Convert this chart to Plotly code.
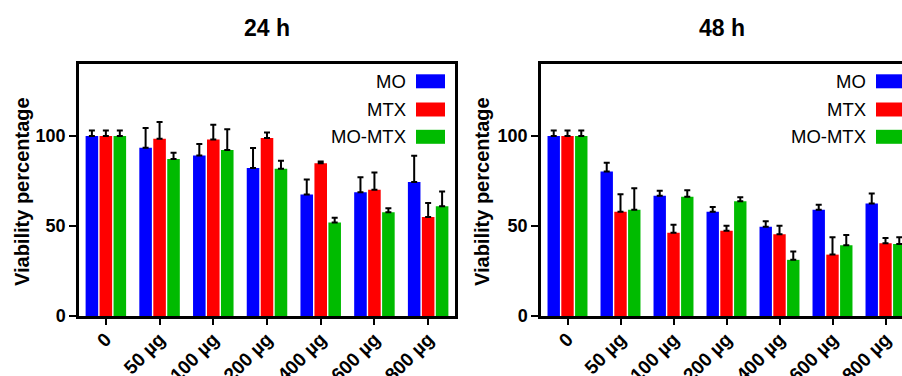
import plotly.graph_objects as go

categories = ["0", "50 µg", "100 µg", "200 µg", "400 µg", "600 µg", "800 µg"]
series_names = ["MO", "MTX", "MO-MTX"]

mo_24 = [100, 93.5, 89.2, 82.2, 67.5, 68.8, 74.5]
mo_24_err = [3, 11, 6.3, 11.1, 8.3, 8.3, 14.5]
mtx_24 = [100, 98.5, 98.1, 98.9, 84.8, 70.1, 55]
mtx_24_err = [3, 9.3, 8.2, 3.1, 1.1, 9.6, 7.8]
momtx_24 = [100, 87.2, 92.2, 81.8, 51.9, 57.6, 61]
momtx_24_err = [3, 3.5, 11.5, 4.4, 2.7, 2.2, 8.1]

mo_48 = [100, 80.3, 66.8, 57.9, 49.6, 59, 62.5]
mo_48_err = [3, 4.8, 2.8, 2.6, 3, 2.8, 5.6]
mtx_48 = [100, 57.9, 46.3, 47.4, 45.4, 34.1, 40.4]
mtx_48_err = [3, 9.8, 4.4, 2.8, 4.8, 9.6, 3]
momtx_48 = [100, 59, 66.2, 63.8, 31.2, 39.3, 40]
momtx_48_err = [3, 12, 3.7, 2.2, 4.6, 5.7, 3.7]

y_ticks = [0, 50, 100]
panel_titles = ["24 h", "48 h"]
y_title = "Viability percentage"

colors = ["#0000FF", "#FF0000", "#00BB00"]
FONT = "Arial, 'Liberation Sans', sans-serif"

W, H = 902, 376
T, B = 64, 316  # plot area top / bottom in px


def px_x(x):
    return x / W


def px_y(y):
    return (B - y) / (B - T)


fig = go.Figure()

data24 = [(mo_24, mo_24_err), (mtx_24, mtx_24_err), (momtx_24, momtx_24_err)]
data48 = [(mo_48, mo_48_err), (mtx_48, mtx_48_err), (momtx_48, momtx_48_err)]

for (xa, ya, dat) in [("x", "y", data24), ("x2", "y2", data48)]:
    for i, (vals, errs) in enumerate(dat):
        fig.add_trace(go.Bar(
            x=categories, y=vals, name=series_names[i],
            marker=dict(color=colors[i], line=dict(width=0)),
            error_y=dict(type="data", array=errs, arrayminus=[0] * len(errs),
                         symmetric=False, color="black", thickness=2, width=3),
            xaxis=xa, yaxis=ya, showlegend=False,
        ))

axis_common = dict(showline=True, linecolor="black", linewidth=2.5,
                   ticks="outside", tickcolor="black", tickwidth=2,
                   showgrid=False, zeroline=False)

xfont = dict(size=19, family=FONT, weight="bold", color="black")
yfont = dict(size=18, family=FONT, weight="bold", color="black")

fig.update_layout(
    width=W, height=H,
    margin=dict(l=0, r=0, t=T, b=H - B, autoexpand=False),
    plot_bgcolor="white", paper_bgcolor="white",
    barmode="group", bargap=0.22, bargroupgap=0.1,
    font=dict(family=FONT, color="black"),
    xaxis=dict(domain=[px_x(79), px_x(455)], range=[-0.5, 6.5], mirror=True,
               ticklen=6, tickangle=-45, tickfont=xfont, ticklabelstandoff=-4,
               anchor="y", **axis_common),
    yaxis=dict(domain=[0, 1], range=[0, 140], tickvals=y_ticks, mirror=True,
               ticklen=7, tickfont=yfont,
               anchor="x", **axis_common),
    xaxis2=dict(domain=[px_x(541), 1.0], range=[-0.5, 6.5 - 10 / 53.0], mirror=True,
                ticklen=6, tickangle=-45, tickfont=xfont, ticklabelstandoff=-4,
                anchor="y2", **axis_common),
    yaxis2=dict(domain=[0, 1], range=[0, 140], tickvals=y_ticks, mirror=False,
                ticklen=7, tickfont=yfont,
                anchor="x2", **axis_common),
)

annotations = []
shapes = []

# panel titles
for title, cx in zip(panel_titles, [267, 722]):
    annotations.append(dict(text=f"<b>{title}</b>", x=px_x(cx), y=px_y(28),
                            xref="paper", yref="paper", showarrow=False,
                            xanchor="center", yanchor="middle",
                            font=dict(size=23, family=FONT, color="black")))

# y titles
for cx in [21.5, 481.5]:
    annotations.append(dict(text=f"<b>{y_title}</b>", x=px_x(cx), y=px_y(191.5),
                            xref="paper", yref="paper", showarrow=False,
                            textangle=-90, xanchor="center", yanchor="middle",
                            font=dict(size=20, family=FONT, color="black")))

# legends
row_y = [81.3, 109.5, 136.8]
for text_right, box_left in [(407.5, 416), (868, 876)]:
    for i, name in enumerate(series_names):
        annotations.append(dict(text=name, x=px_x(text_right), y=px_y(row_y[i]),
                                xref="paper", yref="paper", showarrow=False,
                                xanchor="right", yanchor="middle",
                                font=dict(size=18.5, family=FONT, color="black")))
        shapes.append(dict(type="rect", xref="paper", yref="paper",
                           x0=px_x(box_left), x1=px_x(box_left + 29),
                           y0=px_y(row_y[i] + 7), y1=px_y(row_y[i] - 7),
                           fillcolor=colors[i], line=dict(width=0)))

fig.update_layout(annotations=annotations, shapes=shapes)

fig.write_html(
    "out.html",
    config={"displayModeBar": False},
    post_script="document.body.style.margin='0';document.body.style.overflow='hidden';",
)
